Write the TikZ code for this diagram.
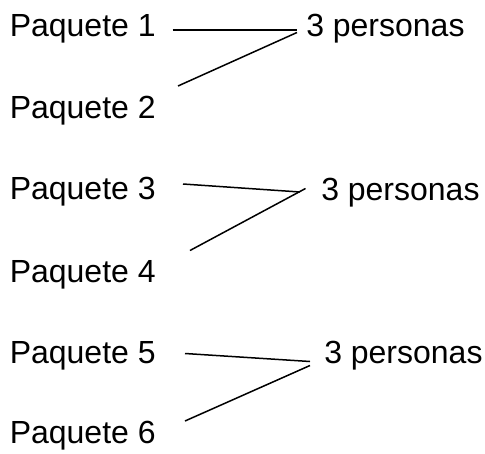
\documentclass[tikz,border=0pt]{standalone}
\usepackage{fontspec}
\setmainfont{Liberation Sans}
\usepackage{tikz}

\begin{document}
\begin{tikzpicture}[x=1pt,y=-1pt,line width=1.5pt,
    pkt/.style={anchor=base west,inner sep=0pt,font=\fontsize{32}{38}\selectfont}]
            \useasboundingbox (0,0) rectangle (485,453);
            % packages on the left, groups on the right
            \node[pkt] (p1) at (9,36) {Paquete 1};
            \node[pkt] (p2) at (9,118) {Paquete 2};
            \node[pkt] (p3) at (9,199) {Paquete 3};
            \node[pkt] (p4) at (9,282) {Paquete 4};
            \node[pkt] (p5) at (9,363) {Paquete 5};
            \node[pkt] (p6) at (9,443) {Paquete 6};
            \node[pkt] (g1) at (305.5,36) {3 personas};
            \node[pkt] (g2) at (320.5,200) {3 personas};
            \node[pkt] (g3) at (323.5,363) {3 personas};
            % line ends
            \coordinate (a1) at (172.5,30);
            \coordinate (b1) at (178,86);
            \coordinate (j1) at (297,30);
            \coordinate (k1) at (297,32.5);
            \coordinate (a2) at (183,184);
            \coordinate (b2) at (190,250.5);
            \coordinate (j2) at (300,192);
            \coordinate (k2) at (305.5,188.5);
            \coordinate (a3) at (185,353.5);
            \coordinate (b3) at (185,421);
            \coordinate (j3) at (310,361.5);
            \coordinate (k3) at (310,365.5);
            \draw (a1) -- (j1);
            \draw (b1) -- (k1);
            \draw (a2) -- (j2);
            \draw (b2) -- (k2);
            \draw (a3) -- (j3);
            \draw (b3) -- (k3);
        \end{tikzpicture}
\end{document}
